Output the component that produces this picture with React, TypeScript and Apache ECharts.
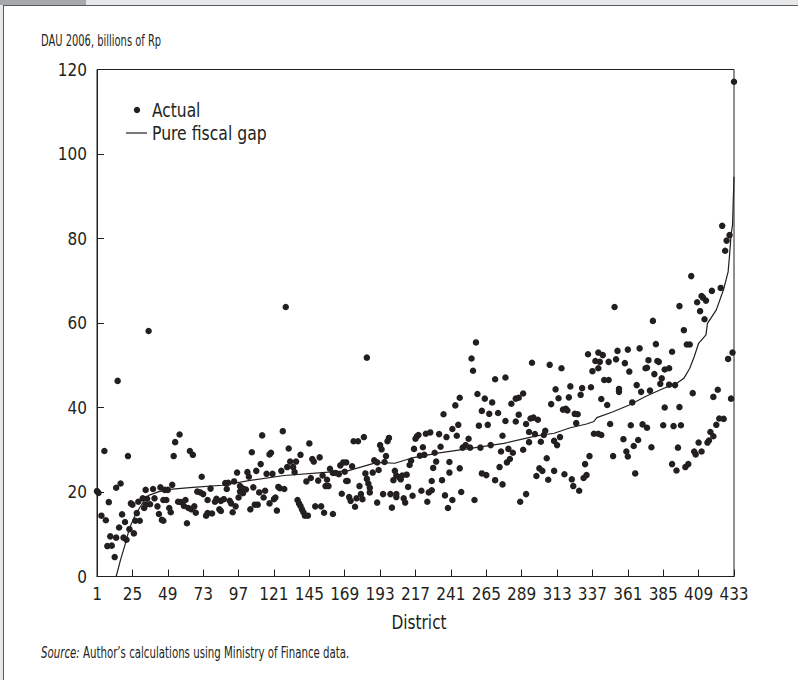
import React, { useEffect, useRef } from "react";
import * as echarts from "echarts";

const FONT = "'Liberation Sans Narrow', 'Arial Narrow', 'DejaVu Sans Condensed', 'Liberation Sans', sans-serif";
const INK = "#231f20";

// District numbers 1..433 (category axis)
const districts: string[] = Array.from({ length: 433 }, (_, i) => String(i + 1));

// Pure fiscal gap (district, billions of Rp)
const fiscalGap: [number, number][] = [
  [14, 0], [17, 4], [20, 7.5], [23, 11.4], [27, 14.6], [32, 17.4], [36, 19.2], [43, 20.1],
  [52, 20.7], [66, 21.1], [86, 21.6], [106, 22.8], [128, 23.9], [158, 24.7], [171, 25.0],
  [191, 27.0], [203, 26.8], [214, 28.0], [232, 29.2], [252, 30.2], [277, 31.5], [299, 33.3],
  [311, 33.9], [322, 35.2], [333, 36.1], [338, 36.7], [340, 37.6], [351, 39.0], [362, 40.6],
  [373, 42.6], [385, 44.5], [394, 45.7], [399, 46.9], [403, 49.3], [406, 52.0], [409, 55.2],
  [414, 57.2], [415, 59.9], [421, 63.1], [426, 68.0], [429, 72.1], [430, 76.1], [431, 80.8],
  [432, 83.2], [433, 94.6],
];

// Actual DAU 2006 (district, billions of Rp)
const actualSegA: [number, number][] = [
  [36, 58.1], [15, 46.3], [6, 29.7], [22, 28.5], [57, 33.6], [54, 31.8], [53, 28.5], [64, 29.7], [66, 28.8], [72, 23.6],
  [1, 20.2], [2, 19.8], [9, 17.6], [4, 14.4], [7, 13.3], [8, 7.2], [10, 9.5], [11, 7.3], [13, 4.6], [14, 9.2], [14, 21.0],
  [17, 22.0], [16, 11.6], [18, 14.7], [20, 12.9], [19, 9.2], [21, 8.7], [23, 11.2], [26, 10.2], [24, 17.3], [25, 17.0],
  [28, 15.0], [27, 13.2], [30, 13.2], [29, 17.7], [32, 18.5], [33, 16.2], [34, 17.0], [34, 20.5], [35, 18.4], [37, 17.1],
  [39, 20.7], [40, 18.5], [42, 16.6], [44, 21.1], [43, 14.8], [45, 13.4], [46, 13.2], [46, 18.1], [48, 18.1], [47, 20.5],
  [49, 20.5], [52, 21.7], [50, 16.2], [51, 15.2], [56, 17.7], [58, 17.6], [61, 18.1], [60, 16.7], [63, 16.2], [65, 15.9],
  [67, 16.6], [68, 15.1], [62, 12.6], [69, 20.1], [71, 19.9], [73, 19.5], [78, 20.8], [76, 18.1], [75, 14.4], [76, 15.0],
  [79, 14.9], [81, 17.7], [82, 18.4],
];
const actualSegB: [number, number][] = [
  [129, 63.8], [113, 33.4], [127, 34.4], [106, 29.4], [145, 31.5], [131, 30.3], [118, 28.9], [119, 29.3], [139, 28.8],
  [112, 26.6], [132, 27.2], [136, 27.2], [130, 25.9], [134, 25.9], [147, 27.8], [148, 27.2], [152, 28.2], [168, 27.0],
  [166, 26.3], [96, 24.6], [103, 24.7], [109, 25.0], [104, 23.6], [116, 24.3], [120, 24.3], [126, 25.0], [135, 24.7],
  [146, 23.3], [151, 22.7], [143, 22.5], [154, 23.9], [157, 22.9], [159, 25.5], [161, 24.5], [163, 24.5], [165, 24.2],
  [88, 22.1], [90, 22.2], [94, 22.5], [89, 20.7], [98, 21.4], [100, 20.8], [102, 20.6], [98, 20.1], [100, 19.7],
  [107, 21.1], [111, 19.9], [115, 20.3], [124, 21.2], [125, 20.9], [128, 20.7], [114, 18.7], [121, 18.3], [122, 18.7],
  [97, 18.7], [91, 17.9], [85, 17.9], [87, 18.3], [84, 15.9], [85, 15.5], [92, 17.3], [95, 16.6], [93, 15.2], [105, 15.9],
  [108, 17.0], [110, 17.0], [118, 17.3], [123, 15.6], [137, 18.1], [138, 17.3], [139, 16.7], [140, 15.9], [141, 15.2],
  [142, 14.4], [144, 14.4], [149, 16.6], [153, 16.6], [155, 15.1], [161, 14.8], [156, 21.4], [158, 21.4], [167, 19.6],
];
const actualSegC: [number, number][] = [
  [184, 51.8], [247, 42.3], [244, 40.5], [246, 35.9], [242, 34.9], [236, 38.4], [175, 32.0], [178, 32.0], [182, 33.0],
  [193, 31.1], [194, 30.1], [198, 32.0], [199, 32.8], [197, 28.5], [217, 32.6], [218, 33.2], [219, 33.5], [224, 33.8],
  [227, 34.1], [233, 33.7], [238, 33.0], [234, 30.7], [222, 30.6], [216, 30.2], [249, 30.5], [251, 31.1], [253, 32.6],
  [254, 30.5], [245, 33.3], [220, 28.6], [223, 28.8], [230, 29.3], [214, 27.4], [213, 26.4], [231, 27.2], [240, 27.1],
  [229, 25.7], [189, 27.5], [191, 27.0], [192, 25.2], [196, 27.1], [188, 24.6], [183, 24.4], [174, 26.1], [170, 27.0],
  [169, 24.8], [203, 25.0], [204, 23.9], [206, 23.5], [208, 23.9], [211, 24.1], [202, 22.8], [207, 23.0], [184, 23.1],
  [185, 22.0], [170, 22.6], [171, 22.6], [228, 22.6], [235, 22.8], [240, 24.6], [247, 25.6], [212, 21.2], [179, 21.4],
  [186, 21.0], [172, 18.8], [173, 17.9], [177, 18.5], [176, 16.5], [180, 19.5], [181, 18.3], [186, 19.9], [191, 17.5],
  [195, 19.5], [200, 19.5], [204, 19.5], [204, 18.8], [201, 16.3], [209, 18.5], [210, 17.5], [215, 19.1], [221, 20.3],
  [225, 17.7], [226, 19.9], [228, 20.4], [237, 19.2], [242, 18.1], [239, 16.2], [248, 20.0],
];
const actualSegD: [number, number][] = [
  [258, 55.4], [255, 51.6], [256, 48.7], [257, 18.1], [296, 50.6], [308, 50.1], [316, 49.3], [271, 46.7], [278, 47.1],
  [334, 52.6], [339, 51.0], [337, 48.6], [259, 43.2], [264, 42.1], [269, 41.2], [262, 39.2], [267, 38.5], [273, 38.7],
  [260, 35.7], [266, 35.9], [278, 36.8], [282, 40.9], [285, 42.1], [287, 42.3], [290, 43.3], [287, 38.3], [285, 36.7],
  [292, 36.1], [295, 37.4], [297, 37.6], [300, 37.1], [294, 34.2], [298, 33.7], [276, 33.3], [294, 31.8], [268, 31.1],
  [261, 30.5], [275, 29.6], [280, 30.2], [283, 29.3], [279, 27.0], [281, 27.8], [274, 25.9], [262, 24.4], [265, 24.0],
  [271, 22.8], [276, 21.8], [290, 30.0], [292, 19.5], [288, 17.7], [302, 31.9], [304, 33.5], [305, 34.5], [306, 28.0],
  [301, 25.6], [303, 25.0], [299, 23.8], [307, 22.9], [311, 25.0], [309, 40.8], [312, 44.3], [314, 42.2], [311, 32.1],
  [313, 31.1], [315, 33.0], [317, 39.5], [319, 39.7], [320, 39.3], [321, 42.4], [322, 45.0], [325, 38.5], [327, 38.4],
  [326, 36.3], [329, 43.0], [330, 44.6], [336, 44.8], [338, 33.8], [318, 24.2], [323, 23.0], [324, 21.4], [328, 20.3],
  [331, 23.3], [333, 24.0], [332, 26.6], [335, 28.5],
];
const actualSegE: [number, number][] = [
  [404, 71.1], [352, 63.8], [396, 64.0], [378, 60.5], [408, 64.9], [411, 66.4], [412, 66.0], [414, 65.3], [410, 62.8],
  [413, 60.9], [418, 67.6], [424, 68.3], [425, 83.0], [427, 77.1], [428, 79.5], [430, 80.8], [399, 58.3], [401, 54.9],
  [403, 54.9], [429, 51.5], [432, 53.0], [431, 42.1], [433, 117.1],
  [341, 53.0], [344, 52.4], [342, 50.8], [341, 49.3], [348, 50.8], [354, 53.4], [353, 51.4], [359, 50.5], [361, 53.7],
  [369, 54.0], [362, 48.5], [345, 46.5], [348, 46.5], [355, 44.4], [355, 43.7], [367, 45.3], [370, 43.7], [373, 49.3],
  [374, 49.4], [375, 51.2], [380, 55.0], [382, 50.8], [381, 51.0], [379, 47.9], [376, 44.0], [383, 45.6], [384, 46.9],
  [386, 49.0], [389, 49.3], [391, 53.2], [389, 45.4], [393, 45.3], [405, 43.4], [343, 42.0], [347, 40.6], [364, 41.2],
  [386, 40.0], [396, 40.1], [419, 42.5], [422, 44.2], [341, 33.8], [343, 33.5], [349, 36.1], [363, 35.8], [371, 36.0],
  [374, 35.2], [385, 35.8], [392, 35.6], [397, 35.8], [358, 32.5], [368, 32.3], [365, 30.9], [360, 29.6], [361, 28.4],
  [351, 28.5], [377, 30.6], [395, 30.5], [366, 24.4], [391, 26.6], [394, 25.1], [400, 25.9], [402, 26.6], [406, 29.6],
  [407, 28.9], [411, 29.6], [409, 31.7], [415, 31.7], [416, 32.2], [419, 33.2], [417, 34.2], [421, 35.9], [423, 37.4],
  [426, 37.3],
];

const yMin = 0;
const yMax = 120;
const yStep = 20;

export default function App() {
  const ref = useRef<HTMLDivElement>(null);
  useEffect(() => {
    if (!ref.current) return;
    const chart = echarts.init(ref.current, undefined, { renderer: "svg" });
    const actual = [...actualSegA, ...actualSegB, ...actualSegC, ...actualSegD, ...actualSegE].map(
      ([d, v]) => [d - 1, v]
    );
    const gap = fiscalGap.map(([d, v]) => [d - 1, v]);
    chart.setOption({
      animation: false,
      backgroundColor: "#ffffff",
      textStyle: { fontFamily: FONT, color: INK },
      grid: {
        left: 97,
        top: 69.5,
        width: 637,
        height: 507,
        show: true,
        borderColor: INK,
        borderWidth: 1,
        backgroundColor: "transparent",
      },
      xAxis: {
        type: "category",
        data: districts,
        boundaryGap: false,
        axisLine: { lineStyle: { color: INK, width: 1 } },
        axisTick: { inside: true, length: 7, interval: 23, lineStyle: { color: INK } },
        axisLabel: { interval: 23, margin: 9, fontSize: 17, fontFamily: FONT, color: INK },
        splitLine: { show: false },
      },
      yAxis: {
        type: "value",
        min: yMin,
        max: yMax,
        interval: yStep,
        axisLine: { show: true, lineStyle: { color: INK, width: 1 } },
        axisTick: { show: true, inside: true, length: 7, lineStyle: { color: INK } },
        axisLabel: { margin: 10, fontSize: 17, fontFamily: FONT, color: INK },
        splitLine: { show: false },
      },
      series: [
        {
          name: "Pure fiscal gap",
          type: "line",
          data: gap,
          symbol: "none",
          lineStyle: { color: INK, width: 1.2 },
          z: 3,
        },
        {
          name: "Actual",
          type: "scatter",
          data: actual,
          symbol: "circle",
          symbolSize: 6.5,
          itemStyle: { color: INK, opacity: 1 },
          z: 4,
        },
      ],
      graphic: [
        { type: "rect", shape: { x: 0, y: 0, width: 86, height: 5 }, style: { fill: "#a7a9ac" } },
        { type: "rect", shape: { x: 86, y: 0, width: 712, height: 5 }, style: { fill: "#e6e7e8" } },
        { type: "rect", shape: { x: 0, y: 5, width: 3, height: 675 }, style: { fill: "#e6e7e8" } },
        { type: "line", shape: { x1: 3, y1: 5.5, x2: 798, y2: 5.5 }, style: { stroke: "#58595b", lineWidth: 1 } },
        { type: "line", shape: { x1: 3.5, y1: 5, x2: 3.5, y2: 680 }, style: { stroke: "#58595b", lineWidth: 1 } },
        {
          type: "text",
          x: 41,
          y: 40,
          scaleX: 0.69,
          style: { text: "DAU 2006, billions of Rp", fontSize: 16, fontFamily: FONT, fill: INK, verticalAlign: "middle" },
        },
        { type: "circle", shape: { cx: 137, cy: 110, r: 3.2 }, style: { fill: INK } },
        {
          type: "text",
          x: 152,
          y: 110,
          scaleX: 0.86,
          style: { text: "Actual", fontSize: 20, fontFamily: FONT, fill: INK, verticalAlign: "middle" },
        },
        { type: "line", shape: { x1: 126, y1: 133, x2: 147, y2: 133 }, style: { stroke: INK, lineWidth: 1.2 } },
        {
          type: "text",
          x: 152,
          y: 133,
          scaleX: 0.87,
          style: { text: "Pure fiscal gap", fontSize: 20, fontFamily: FONT, fill: INK, verticalAlign: "middle" },
        },
        {
          type: "text",
          x: 419,
          y: 622,
          scaleX: 0.9,
          style: { text: "District", fontSize: 19, fontFamily: FONT, fill: INK, align: "center", verticalAlign: "middle" },
        },
        {
          type: "text",
          x: 41,
          y: 652,
          scaleX: 0.71,
          style: {
            text: "{i|Source:} Author\u2019s calculations using Ministry of Finance data.",
            fontSize: 16,
            fontFamily: FONT,
            fill: INK,
            verticalAlign: "middle",
            rich: { i: { fontStyle: "italic", fontSize: 16, fontFamily: FONT, fill: INK } },
          },
        },
      ],
    });
    return () => chart.dispose();
  }, []);
  return (
    <div
      ref={ref}
      style={{ position: "fixed", left: 0, top: 0, width: 798, height: 680, background: "#fff" }}
    />
  );
}
